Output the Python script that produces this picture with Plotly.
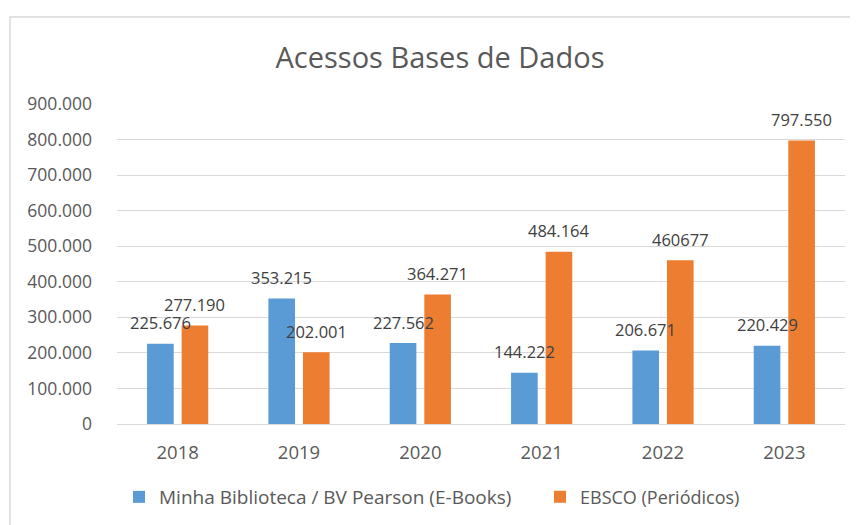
import plotly.graph_objects as go

years = ["2018", "2019", "2020", "2021", "2022", "2023"]
ebooks = [225676, 353215, 227562, 144222, 206671, 220429]
ebsco = [277190, 202001, 364271, 484164, 460677, 797550]
ebooks_labels = ["225.676", "353.215", "227.562", "144.222", "206.671", "220.429"]
ebsco_labels = ["277.190", "202.001", "364.271", "484.164", "460677", "797.550"]
tick_vals = [0, 100000, 200000, 300000, 400000, 500000, 600000, 700000, 800000, 900000]
tick_text = ["0", "100.000", "200.000", "300.000", "400.000", "500.000",
             "600.000", "700.000", "800.000", "900.000"]

BLUE = "#5B9BD5"
ORANGE = "#ED7D31"
TXT = "#595959"
FONT = "Open Sans"

W, H = 858, 525
L, R, T, B = 109, 21, 96, 109
PW, PH = W - L - R, H - T - B

fig = go.Figure()
fig.add_trace(go.Bar(name="Minha Biblioteca / BV Pearson (E-Books)", x=years, y=ebooks,
                     marker_color=BLUE, marker_line_width=0, legend="legend"))
fig.add_trace(go.Bar(name="EBSCO (Periódicos)", x=years, y=ebsco,
                     marker_color=ORANGE, marker_line_width=0, legend="legend2"))

# data labels (x given as category index)
cat_w = PW / len(years)
bargap = 0.43
slot = cat_w * (1 - bargap) / 2
annotations = []
for i, yr in enumerate(years):
    for val, lab, sh in ((ebooks[i], ebooks_labels[i], -slot / 2),
                         (ebsco[i], ebsco_labels[i], slot / 2)):
        annotations.append(dict(x=i, y=val, text=lab, showarrow=False,
                                xref="x", yref="y", xshift=sh, yshift=21,
                                yanchor="middle", xanchor="center",
                                font=dict(family=FONT, size=16.5, color="#404040")))

leg_y = -(489 - (H - B)) / PH
leg_common = dict(orientation="h", xanchor="left", y=leg_y, yanchor="middle",
                  itemclick=False, bgcolor="rgba(0,0,0,0)", visible=True)

fig.update_layout(
    width=W, height=H, showlegend=True,
    margin=dict(l=L, r=R, t=T, b=B, autoexpand=False),
    paper_bgcolor="white", plot_bgcolor="white",
    barmode="group", bargap=bargap, bargroupgap=0.23,
    title=dict(text="Acessos Bases de Dados", x=432 / W, xanchor="center",
               y=1 - 50 / H, yanchor="middle",
               font=dict(family=FONT, size=29, color=TXT)),
    font=dict(family=FONT, color=TXT),
    xaxis=dict(type="category", range=[-0.5, len(years) - 0.5], showgrid=False,
               showline=True, linecolor="#D9D9D9", automargin=False,
               linewidth=1, ticks="", ticklabelstandoff=12,
               tickfont=dict(size=18.5, color=TXT)),
    yaxis=dict(range=[0, 900000], tickvals=tick_vals, ticktext=tick_text,
               showgrid=True, gridcolor="#D9D9D9", gridwidth=1, zeroline=False,
               showline=False, ticks="", ticklabelstandoff=24, automargin=False,
               tickfont=dict(size=17.5, color=TXT)),
    legend=dict(x=(111 - L) / PW, font=dict(family=FONT, size=19, color=TXT),
                **leg_common),
    legend2=dict(x=(532 - L) / PW, font=dict(family=FONT, size=18, color=TXT),
                 **leg_common),
    annotations=annotations,
    shapes=[dict(type="rect", xref="paper", yref="paper",
                 x0=(2 - L) / PW, x1=1.2,
                 y0=-0.5, y1=(H - B - 9) / PH,
                 line=dict(color="#D9D9D9", width=1.5), layer="below")],
)

fig.write_html("out.html")
